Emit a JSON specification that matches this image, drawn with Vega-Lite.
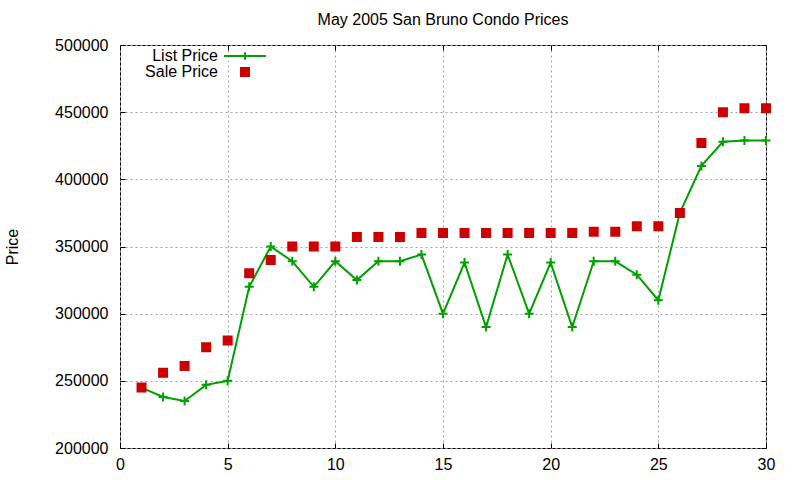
{
  "$schema": "https://vega.github.io/schema/vega-lite/v6.json",
  "width": 646,
  "height": 403,
  "autosize": {"type": "none"},
  "padding": {"left": 120, "top": 45, "right": 34, "bottom": 32},
  "background": "white",
  "title": {
    "text": "May 2005 San Bruno Condo Prices",
    "font": "Liberation Sans",
    "fontSize": 16,
    "fontWeight": "normal",
    "color": "black",
    "offset": 9
  },
  "config": {
    "view": {"stroke": "black", "strokeWidth": 1},
    "axis": {
      "labelFont": "Liberation Sans",
      "labelFontSize": 16,
      "labelColor": "black",
      "labelFlush": false,
      "titleFont": "Liberation Sans",
      "titleFontSize": 16,
      "titleFontWeight": "normal",
      "titleColor": "black",
      "tickColor": "black",
      "tickSize": -5,
      "tickWidth": 1,
      "domain": false,
      "gridColor": "#a0a0a0",
      "gridDash": [2, 3],
      "gridWidth": 1
    },
    "legend": {
      "labelFont": "Liberation Sans",
      "labelFontSize": 16,
      "labelColor": "black",
      "symbolStrokeWidth": 2
    }
  },
  "data": {
    "values": [
      {"day": 1, "series": "List Price", "price": 245000},
      {"day": 2, "series": "List Price", "price": 238000},
      {"day": 3, "series": "List Price", "price": 235000},
      {"day": 4, "series": "List Price", "price": 247000},
      {"day": 5, "series": "List Price", "price": 250000},
      {"day": 6, "series": "List Price", "price": 320000},
      {"day": 7, "series": "List Price", "price": 350000},
      {"day": 8, "series": "List Price", "price": 339000},
      {"day": 9, "series": "List Price", "price": 320000},
      {"day": 10, "series": "List Price", "price": 339000},
      {"day": 11, "series": "List Price", "price": 325000},
      {"day": 12, "series": "List Price", "price": 339000},
      {"day": 13, "series": "List Price", "price": 339000},
      {"day": 14, "series": "List Price", "price": 344000},
      {"day": 15, "series": "List Price", "price": 300000},
      {"day": 16, "series": "List Price", "price": 338000},
      {"day": 17, "series": "List Price", "price": 290000},
      {"day": 18, "series": "List Price", "price": 344000},
      {"day": 19, "series": "List Price", "price": 300000},
      {"day": 20, "series": "List Price", "price": 338000},
      {"day": 21, "series": "List Price", "price": 290000},
      {"day": 22, "series": "List Price", "price": 339000},
      {"day": 23, "series": "List Price", "price": 339000},
      {"day": 24, "series": "List Price", "price": 329000},
      {"day": 25, "series": "List Price", "price": 310000},
      {"day": 26, "series": "List Price", "price": 375000},
      {"day": 27, "series": "List Price", "price": 410000},
      {"day": 28, "series": "List Price", "price": 428000},
      {"day": 29, "series": "List Price", "price": 429000},
      {"day": 30, "series": "List Price", "price": 429000},
      {"day": 1, "series": "Sale Price", "price": 245000},
      {"day": 2, "series": "Sale Price", "price": 256000},
      {"day": 3, "series": "Sale Price", "price": 261000},
      {"day": 4, "series": "Sale Price", "price": 275000},
      {"day": 5, "series": "Sale Price", "price": 280000},
      {"day": 6, "series": "Sale Price", "price": 330000},
      {"day": 7, "series": "Sale Price", "price": 340000},
      {"day": 8, "series": "Sale Price", "price": 350000},
      {"day": 9, "series": "Sale Price", "price": 350000},
      {"day": 10, "series": "Sale Price", "price": 350000},
      {"day": 11, "series": "Sale Price", "price": 357000},
      {"day": 12, "series": "Sale Price", "price": 357000},
      {"day": 13, "series": "Sale Price", "price": 357000},
      {"day": 14, "series": "Sale Price", "price": 360000},
      {"day": 15, "series": "Sale Price", "price": 360000},
      {"day": 16, "series": "Sale Price", "price": 360000},
      {"day": 17, "series": "Sale Price", "price": 360000},
      {"day": 18, "series": "Sale Price", "price": 360000},
      {"day": 19, "series": "Sale Price", "price": 360000},
      {"day": 20, "series": "Sale Price", "price": 360000},
      {"day": 21, "series": "Sale Price", "price": 360000},
      {"day": 22, "series": "Sale Price", "price": 361000},
      {"day": 23, "series": "Sale Price", "price": 361000},
      {"day": 24, "series": "Sale Price", "price": 365000},
      {"day": 25, "series": "Sale Price", "price": 365000},
      {"day": 26, "series": "Sale Price", "price": 375000},
      {"day": 27, "series": "Sale Price", "price": 427000},
      {"day": 28, "series": "Sale Price", "price": 450000},
      {"day": 29, "series": "Sale Price", "price": 453000},
      {"day": 30, "series": "Sale Price", "price": 453000}
    ]
  },
  "layer": [
    {
      "transform": [{"filter": "datum.series === 'List Price'"}],
      "mark": {"type": "line", "color": "#00a000", "strokeWidth": 2},
      "encoding": {
        "x": {
          "field": "day",
          "type": "quantitative",
          "scale": {"domain": [0, 30], "nice": false},
          "axis": {
            "orient": "bottom",
            "values": [0, 5, 10, 15, 20, 25, 30],
            "grid": true,
            "title": null,
            "labelPadding": 13
          }
        },
        "y": {
          "field": "price",
          "type": "quantitative",
          "scale": {"domain": [200000, 500000], "nice": false, "zero": false},
          "axis": {
            "orient": "left",
            "values": [200000, 250000, 300000, 350000, 400000, 450000, 500000],
            "format": "d",
            "grid": true,
            "title": "Price",
            "titlePadding": 34,
            "labelPadding": 17
          }
        }
      }
    },
    {
      "transform": [{"filter": "datum.series === 'List Price'"}],
      "mark": {
        "type": "point",
        "filled": false,
        "shape": "M-1,0H1M0,-1V1",
        "size": 81,
        "strokeWidth": 2,
        "opacity": 1,
        "color": "#00a000"
      },
      "encoding": {
        "x": {
          "field": "day",
          "type": "quantitative",
          "axis": {
            "orient": "top",
            "values": [0, 5, 10, 15, 20, 25, 30],
            "labels": false,
            "grid": false,
            "title": null
          }
        },
        "y": {
          "field": "price",
          "type": "quantitative",
          "axis": {
            "orient": "right",
            "values": [200000, 250000, 300000, 350000, 400000, 450000, 500000],
            "labels": false,
            "grid": false,
            "title": null
          }
        }
      }
    },
    {
      "transform": [{"filter": "datum.series === 'Sale Price'"}],
      "mark": {"type": "point", "filled": true, "size": 100, "strokeWidth": 2, "opacity": 1},
      "encoding": {
        "x": {"field": "day", "type": "quantitative", "axis": null},
        "y": {"field": "price", "type": "quantitative", "axis": null},
        "color": {
          "field": "series",
          "type": "nominal",
          "scale": {"domain": ["List Price", "Sale Price"], "range": ["#00a000", "#cc0000"]},
          "legend": {
            "title": null,
            "orient": "none",
            "legendX": 117,
            "legendY": 3,
            "padding": 0,
            "rowPadding": -1,
            "symbolSize": 100,
            "labelAlign": "right",
            "labelOffset": -35
          }
        },
        "stroke": {
          "field": "series",
          "type": "nominal",
          "scale": {"domain": ["List Price", "Sale Price"], "range": ["#00a000", "#cc0000"]},
          "legend": {
            "title": null,
            "orient": "none",
            "legendX": 117,
            "legendY": 3,
            "padding": 0,
            "rowPadding": -1,
            "symbolSize": 100,
            "labelAlign": "right",
            "labelOffset": -35
          }
        },
        "shape": {
          "field": "series",
          "type": "nominal",
          "scale": {
            "domain": ["List Price", "Sale Price"],
            "range": ["M-4.2,0H4.2M0,-0.75V0.75", "M-0.8,-0.8H0.8V0.8H-0.8Z"]
          },
          "legend": {
            "title": null,
            "orient": "none",
            "legendX": 117,
            "legendY": 3,
            "padding": 0,
            "rowPadding": -1,
            "symbolSize": 100,
            "labelAlign": "right",
            "labelOffset": -35
          }
        }
      }
    }
  ],
  "resolve": {"axis": {"x": "independent", "y": "independent"}}
}
